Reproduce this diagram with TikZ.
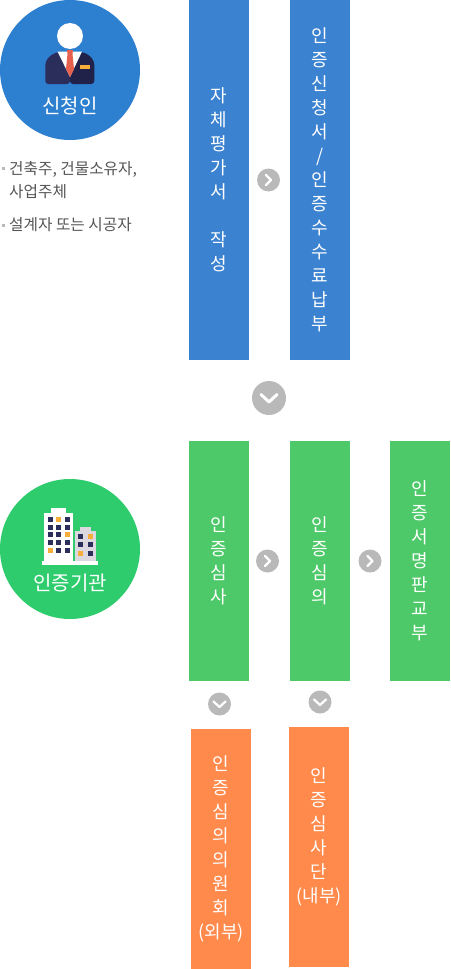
\documentclass[tikz,border=0pt]{standalone}
\usepackage{fontspec}
\setmainfont{Noto Sans CJK KR}
\usetikzlibrary{positioning}
\definecolor{bluebar}{HTML}{3B82D0}
\definecolor{greenbar}{HTML}{4EC969}
\definecolor{orangebar}{HTML}{FF8A4B}
\definecolor{bluedisc}{HTML}{2D7FD0}
\definecolor{greendisc}{HTML}{2ECC6C}
\definecolor{badgegray}{HTML}{B9B9B9}
\definecolor{navyl}{HTML}{2B2D5A}
\definecolor{navyd}{HTML}{20224A}
\definecolor{tiered}{HTML}{E5604D}
\definecolor{amber}{HTML}{F7AE3B}
\definecolor{annex}{HTML}{DCD8E0}
\definecolor{listgray}{HTML}{555555}

\begin{document}
\begin{tikzpicture}[
    x=1pt,y=-1pt,
    node distance=41pt,
    bar/.style={draw=none,text=white,inner sep=0pt,outer sep=0pt,
      align=center,minimum width=60pt,font=\fontsize{18}{24}\selectfont},
    bluebox/.style={bar,fill=bluebar,minimum height=360pt},
    greenbox/.style={bar,fill=greenbar,minimum height=240pt},
    orangebox/.style={bar,fill=orangebar,minimum height=240pt},
    disc/.style={circle,draw=none,minimum size=140pt,inner sep=0pt},
    disclabel/.style={text=white,inner sep=0pt,font=\fontsize{20}{22}\selectfont},
    badge/.style={circle,fill=badgegray,draw=none,minimum size=23pt,inner sep=0pt},
    nextbadge/.style={badge,path picture={
        \draw[white,line width=2.2pt,line cap=round,line join=round]
          (-2.5pt,-5pt)--(2.5pt,0pt)--(-2.5pt,5pt);}},
    downbadge/.style={badge,path picture={
        \draw[white,line width=2.2pt,line cap=round,line join=round]
          (-6pt,2.5pt)--(0pt,-3pt)--(6pt,2.5pt);}},
    bigdownbadge/.style={circle,fill=badgegray,draw=none,minimum size=34pt,inner sep=0pt,
      path picture={
        \draw[white,line width=3pt,line cap=round,line join=round]
          (-8pt,3.5pt)--(0pt,-4pt)--(8pt,3.5pt);}},
    listitem/.style={text=listgray,inner sep=0pt,anchor=west,font=\fontsize{15.7}{18}\selectfont},
    listmark/.style={fill=badgegray,draw=none,inner sep=0pt,minimum size=3pt},
    windowbox/.style={fill=navyl,draw=none,inner sep=0pt,minimum size=5pt},
    litbox/.style={fill=amber,draw=none,inner sep=0pt,minimum size=5pt}
  ]
    \useasboundingbox (0,0) rectangle (450,969);

    % applicant
    \node[disc,fill=bluedisc] (applicant) at (70,70) {};
    \fill[white] (70,36) circle (13);
    \fill[navyl,rounded corners=3pt] (70,52)--(58,52)
      .. controls (50,55) and (45.3,60) .. (45.3,68)--(45.3,84)--(70,84)--cycle;
    \fill[navyd,rounded corners=3pt] (70,52)--(82,52)
      .. controls (90,55) and (94.3,60) .. (94.3,68)--(94.3,84)--(70,84)--cycle;
    \fill[white] (57.5,51.5)--(82,51.5)--(70,77)--cycle;
    \fill[tiered] (67,50)--(73,50)--(72.5,54)--(74,69)--(70,77)--(66,69)--(67.5,54)--cycle;
    \fill[amber] (80,65) rectangle (90,68.7);
    \node[disclabel] (applicantname) at (70,106) {신청인};

    \node[listmark] (markowner) at (3.5,168) {};
    \node[listitem] (owner) at (9,169) {건축주, 건물소유자,};
    \node[listitem] (operator) at (9,192) {사업주체};
    \node[listmark] (markdesigner) at (3.5,225) {};
    \node[listitem] (designer) at (9,225) {설계자 또는 시공자};

    % agency
    \node[disc,fill=greendisc] (agency) at (70,549) {};
    \fill[white] (51,508) rectangle (66,513);
    \fill[white] (44.3,513) rectangle (73.3,561);
    \fill[annex] (80,527) rectangle (91,531);
    \fill[annex] (75,531) rectangle (96,561);
    \fill[white] (42,561) rectangle (98,565);
    \foreach \wx/\wy/\wstyle in {50.3/519.3/windowbox,58.7/519.3/litbox,67/519.3/windowbox,
        50.3/527/windowbox,58.7/527/windowbox,67/527/windowbox,
        50.3/534.7/windowbox,58.7/534.7/windowbox,67/534.7/litbox,
        50.3/542.3/windowbox,58.7/542.3/windowbox,67/542.3/windowbox,
        50.3/550/litbox,58.7/550/windowbox,67/550/windowbox,
        80.7/536.3/windowbox,90/536.3/litbox,
        80.7/544.7/windowbox,90/544.7/windowbox,
        80.7/553.3/litbox,90/553.3/windowbox}
      \node[\wstyle] at (\wx,\wy) {};
    \node[disclabel] (agencyname) at (70,583) {인증기관};

    % steps
    \node[bluebox] (selfeval) at (219,180) {자\\체\\평\\가\\서\\~\\작\\성};
    \node[bluebox,right=of selfeval] (apply) {인\\증\\신\\청\\서\\/\\인\\증\\수\\수\\료\\납\\부};
    \node[greenbox] (review) at (219,561) {인\\증\\심\\사};
    \node[greenbox,right=of review] (deliberate) {인\\증\\심\\의};
    \node[greenbox,right=40pt of deliberate] (issue) {인\\증\\서\\명\\판\\교\\부};
    \node[orangebox] (committee) at (221,849) {인\\증\\심\\의\\의\\원\\회\\(외부)};
    \node[orangebox] (panel) at (319,847) {인\\증\\심\\사\\단\\(내부)\\~};

    \node[nextbadge] (applynext) at (268.500,180) {};
    \node[bigdownbadge] (stagenext) at (269,398) {};
    \node[nextbadge] (reviewnext) at (267.500,561) {};
    \node[nextbadge] (deliberatenext) at (370,561) {};
    \node[downbadge] (committeenext) at (219.500,704) {};
    \node[downbadge] (panelnext) at (320,702) {};
  \end{tikzpicture}
\end{document}
